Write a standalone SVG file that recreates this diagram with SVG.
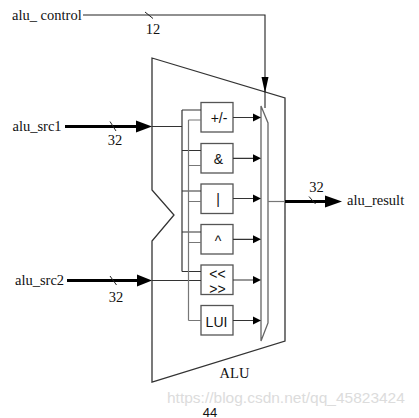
<svg xmlns="http://www.w3.org/2000/svg" width="419" height="418" viewBox="0 0 419 418">
<style>
.lbl{font-family:"Liberation Serif","Times New Roman",serif;font-size:14.5px;fill:#111}
.op{font-family:"Liberation Sans",Arial,sans-serif;font-size:14px;fill:#111;text-anchor:middle}
.box{fill:#fff;stroke:#555;stroke-width:1.3}
.thin{fill:none;stroke:#222;stroke-width:1.1}
.g1{fill:none;stroke:#333;stroke-width:1.2}
.g2{fill:none;stroke:#777;stroke-width:1.2}
.bus{fill:none;stroke:#000;stroke-width:3}
.slash{stroke:#222;stroke-width:1}
.ah{fill:#000}
</style>
<rect width="419" height="418" fill="#fff"/>

<g id="alu">
<polygon points="152,58 285,98 285,341 152,382 152,241 174,215 152,190" fill="none" stroke="#333" stroke-width="1.3"/>
<text class="lbl" x="234.5" y="378" text-anchor="middle" font-size="15">ALU</text>
</g>

<g id="mux">
<polygon points="261,106 268,123 268,323 261,341" fill="#fff" stroke="#666" stroke-width="1.3"/>
</g>

<g id="op-add"><rect class="box" x="201" y="102.5" width="32" height="29.5"/><text class="op" x="219" y="122.5">+/-</text></g>
<g id="op-and"><rect class="box" x="201" y="143.5" width="32" height="29.5"/><text class="op" x="218.5" y="164">&amp;</text></g>
<g id="op-or"><rect class="box" x="201" y="184" width="32" height="29.5"/><text class="op" x="218" y="204">|</text></g>
<g id="op-xor"><rect class="box" x="201" y="224.5" width="32" height="29.5"/><text class="op" x="218" y="246">^</text></g>
<g id="op-shift"><rect class="box" x="201" y="265" width="32" height="29.5"/><text class="op" x="217.5" y="279" font-size="13">&lt;&lt;</text><text class="op" x="217.5" y="294" font-size="13">&gt;&gt;</text></g>
<g id="op-lui"><rect class="box" x="201" y="305.5" width="32" height="29.5"/><text class="op" x="216.5" y="326.5" font-size="12.5">LUI</text></g>

<g id="label-control"><text class="lbl" x="12" y="20">alu_ control</text></g>
<g id="label-src1"><text class="lbl" x="12.5" y="131">alu_src1</text></g>
<g id="label-src2"><text class="lbl" x="15" y="285">alu_src2</text></g>
<g id="label-result"><text class="lbl" x="347" y="205">alu_result</text></g>

<g id="connectors">
<path class="thin" d="M83,15 H265 V108"/>
<polygon class="ah" points="261.5,77 268.5,77 265,93"/>
<line class="slash" x1="145" y1="12" x2="153" y2="18.5"/>
<text class="lbl" x="153" y="33.5" text-anchor="middle">12</text>

<line class="bus" x1="65" y1="126.5" x2="140" y2="126.5"/>
<polygon class="ah" points="136,120.5 152,126.5 136,132.5"/>
<line class="slash" x1="110" y1="121.5" x2="116" y2="131"/>
<text class="lbl" x="115" y="145" text-anchor="middle">32</text>
<path class="g1" d="M152,126.5 H182 M182,110 V271.5 M182,110 H201 M182,150.5 H201 M182,191 H201 M182,232 H201 M182,271.5 H201"/>

<line class="bus" x1="67" y1="280.5" x2="140" y2="280.5"/>
<polygon class="ah" points="137,274.5 152,280.5 137,286.5"/>
<line class="slash" x1="110" y1="276" x2="116.5" y2="285"/>
<text class="lbl" x="116" y="301.5" text-anchor="middle">32</text>
<path class="g1" d="M152,280.5 H201"/>
<path class="g2" d="M188.5,120 V320.5 M188.5,120 H201 M188.5,165.5 H201 M188.5,201.5 H201 M188.5,242.5 H201 M188.5,320.5 H201"/>

<path class="g1" d="M233,117.5 H255 M233,158.3 H255 M233,198.5 H255 M233,239.3 H255 M233,280 H255 M233,320.5 H255"/>
<polygon class="ah" points="253,113.5 261,117.5 253,121.5"/>
<polygon class="ah" points="253,154.3 261,158.3 253,162.3"/>
<polygon class="ah" points="253,194.5 261,198.5 253,202.5"/>
<polygon class="ah" points="253,235.3 261,239.3 253,243.3"/>
<polygon class="ah" points="253,276 261,280 253,284"/>
<polygon class="ah" points="253,316.5 261,320.5 253,324.5"/>

<line x1="268" y1="201.5" x2="285" y2="201.5" stroke="#777" stroke-width="1.2"/>
<line class="bus" x1="285" y1="201.5" x2="328" y2="201.5"/>
<polygon class="ah" points="325,195.5 342,201.5 325,207.5"/>
<line class="slash" x1="309" y1="196.5" x2="315.5" y2="204"/>
<text class="lbl" x="316.5" y="192" text-anchor="middle">32</text>
</g>

<text x="167" y="402.5" font-family="Liberation Sans,Arial,sans-serif" font-size="15.5" fill="#dcdcdc">https://blog.csdn.net/qq_45823424</text>
<text x="210" y="416.5" font-family="Liberation Sans,Arial,sans-serif" font-size="13" fill="#111" text-anchor="middle">44</text>
</svg>
